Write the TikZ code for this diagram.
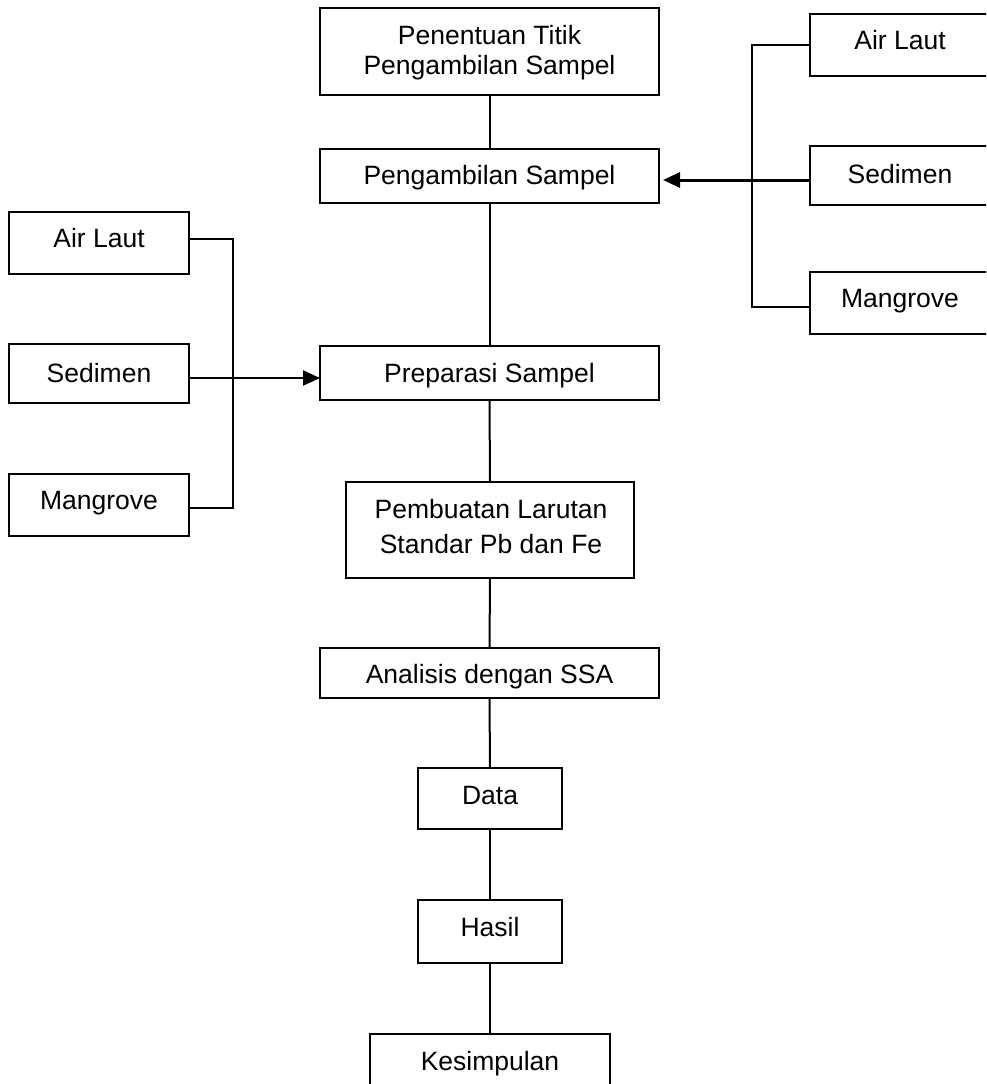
\documentclass[tikz,border=0pt]{standalone}
\usepackage{fontspec}
\setmainfont{Liberation Sans}
\usetikzlibrary{arrows.meta}
\tikzset{
  box/.style={draw=black, line width=2.2pt, rectangle, inner sep=0pt, outer sep=0pt, fill=white},
  lbl/.style={anchor=base, inner sep=0pt, font=\fontsize{26.5}{30}\selectfont},
  conn/.style={draw=black, line width=2pt},
  arr/.style={draw=black, line width=2pt, -{Triangle[length=17pt,width=15pt]}}
}
\begin{document}
\begin{tikzpicture}[x=1pt,y=-1pt]
\useasboundingbox (0,0) rectangle (986,1084);
\clip (0,0) rectangle (986,1084);
\fill[white] (0,0) rectangle (986,1084);
% boxes
\node[box, minimum width=339pt, minimum height=87pt] (top) at (489.5,51.5) {};
\node[box, minimum width=339pt, minimum height=54pt] (peng) at (489.5,176) {};
\node[box, minimum width=339pt, minimum height=54pt] (prep) at (489.5,373) {};
\node[box, minimum width=288pt, minimum height=96pt] (pemb) at (490,530) {};
\node[box, minimum width=339pt, minimum height=50pt] (anal) at (489.5,673) {};
\node[box, minimum width=144pt, minimum height=61pt] (data) at (490,798.5) {};
\node[box, minimum width=144pt, minimum height=63pt] (hasil) at (490,931.5) {};
\node[box, minimum width=240pt, minimum height=62pt] (kes) at (490,1065) {};
\node[box, minimum width=180pt, minimum height=62pt] (airL) at (99,243) {};
\node[box, minimum width=180pt, minimum height=59pt] (sedL) at (99,373.5) {};
\node[box, minimum width=180pt, minimum height=62pt] (manL) at (99,505) {};
\node[box, minimum width=180pt, minimum height=62pt] (airR) at (900,45) {};
\node[box, minimum width=180pt, minimum height=59pt] (sedR) at (900,175.5) {};
\node[box, minimum width=180pt, minimum height=62pt] (manR) at (900,303) {};
% labels
\node[lbl] (t1) at (489.5,44) {Penentuan Titik};
\node[lbl] (t2) at (489.5,74) {Pengambilan Sampel};
\node[lbl] (t3) at (489.5,184) {Pengambilan Sampel};
\node[lbl] (t4) at (489.5,382) {Preparasi Sampel};
\node[lbl] (t5) at (491,518) {Pembuatan Larutan};
\node[lbl] (t6) at (491,553) {Standar Pb dan Fe};
\node[lbl] (t7) at (489.5,683) {Analisis dengan SSA};
\node[lbl] (t8) at (490,804) {Data};
\node[lbl] (t9) at (490,936) {Hasil};
\node[lbl] (t10) at (490,1070) {Kesimpulan};
\node[lbl] (t11) at (99,247) {Air Laut};
\node[lbl] (t12) at (99,382) {Sedimen};
\node[lbl] (t13) at (99,509) {Mangrove};
\node[lbl] (t14) at (900,49) {Air Laut};
\node[lbl] (t15) at (900,183) {Sedimen};
\node[lbl] (t16) at (900,307) {Mangrove};
% main column connectors
\draw[conn] (top.south) -- (peng.north);
\draw[conn] (peng.south) -- (prep.north);
\draw[conn] (prep.south) -- (pemb.north);
\draw[conn] (pemb.south) -- (anal.north);
\draw[conn] (anal.south) -- (data.north);
\draw[conn] (data.south) -- (hasil.north);
\draw[conn] (hasil.south) -- (kes.north);
% left bracket
\coordinate (lb1) at (233,239);
\coordinate (lb2) at (233,508);
\draw[conn] (airL.east |- lb1) -- (lb1) -- (lb2) -- (manL.east |- lb2);
\draw[arr] ([yshift=-4.5pt]sedL.east) -- ([yshift=-4.5pt]sedL.east -| prep.west);
% right bracket
\coordinate (rb1) at (752,45);
\coordinate (rb2) at (752,307);
\draw[conn] (airR.west |- rb1) -- (rb1) -- (rb2) -- (manR.west |- rb2);
\draw[arr, line width=3pt] ([yshift=-4.5pt]sedR.west) -- ([yshift=-4.5pt,xshift=4pt]sedR.west -| peng.east);
\end{tikzpicture}
\end{document}
